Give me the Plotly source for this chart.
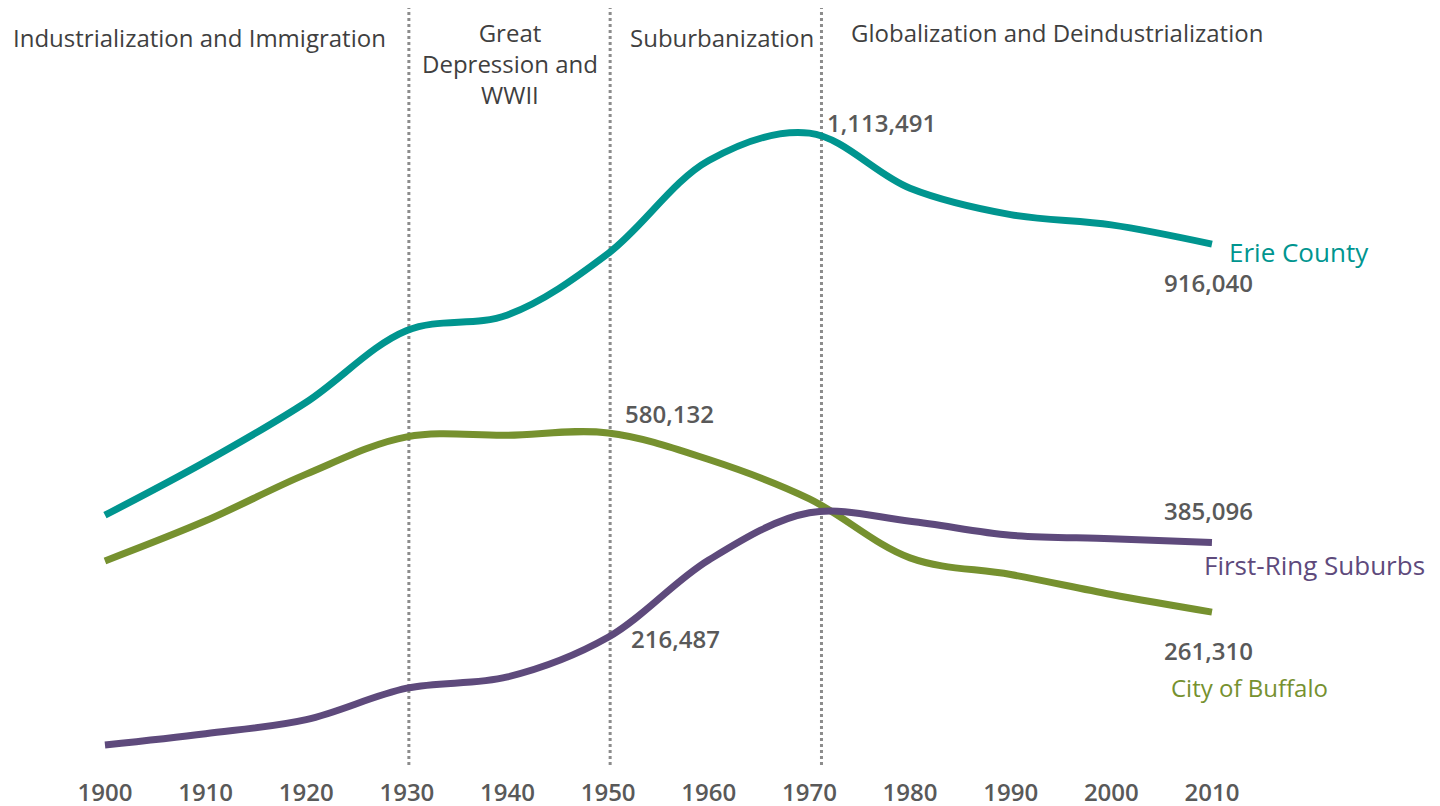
import plotly.graph_objects as go

years = [1900, 1910, 1920, 1930, 1940, 1950, 1960, 1970, 1980, 1990, 2000, 2010]
erie_county = [433686, 528985, 634688, 762408, 790000, 899238, 1064688, 1113491, 1015472, 968532, 950265, 916040]
city_of_buffalo = [352387, 423715, 506775, 573076, 575901, 580132, 532759, 462768, 357870, 328123, 292648, 261310]
first_ring = [25000, 45000, 70000, 126000, 146000, 216487, 354000, 438000, 423000, 398000, 392000, 385096]
tick_labels = [str(y) for y in years]

period_lines = [1930, 1950, 1971]
periods = ["Industrialization and Immigration", "Great<br>Depression and<br>WWII",
           "Suburbanization", "Globalization and Deindustrialization"]

TEAL = "#00958F"
OLIVE = "#76912F"
PURPLE = "#5E4A7C"
GRAY = "#595959"
PH = 771  # plot area height in px

fig = go.Figure()
for vals, col, name in [(erie_county, TEAL, "Erie County"),
                        (city_of_buffalo, OLIVE, "City of Buffalo"),
                        (first_ring, PURPLE, "First-Ring Suburbs")]:
    fig.add_trace(go.Scatter(x=years, y=vals, mode="lines", name=name,
                             line=dict(color=col, width=7, shape="spline", smoothing=1.0),
                             showlegend=False, hoverinfo="skip"))

for yr in period_lines:
    fig.add_shape(type="line", xref="x", yref="paper", xsizemode="pixel", xanchor=yr, x0=2, x1=2,
                  y0=1 - 765/PH, y1=1 - 8/PH,
                  line=dict(color="#8C8C8C", width=3, dash="dot"), layer="below")

num_font = dict(family="Open Sans, Noto Sans, sans-serif", size=24, color=GRAY, weight=600)
lab_font = dict(family="Open Sans, Noto Sans, sans-serif", size=26)

def fmt(v):
    return f"{v:,}"

ann = []
# value labels
ann.append(dict(x=1970, y=erie_county[7], text=fmt(erie_county[7]), xanchor="left", xshift=16, yshift=11, font=num_font))
ann.append(dict(x=2010, y=erie_county[-1], text=fmt(erie_county[-1]), xanchor="center", xshift=-3, yshift=-38, font=num_font))
ann.append(dict(x=1950, y=city_of_buffalo[5], text=fmt(city_of_buffalo[5]), xanchor="left", xshift=15, yshift=19, font=num_font))
ann.append(dict(x=2010, y=first_ring[-1], text=fmt(first_ring[-1]), xanchor="center", xshift=-3, yshift=32, font=num_font))
ann.append(dict(x=1950, y=first_ring[5], text=fmt(first_ring[5]), xanchor="left", xshift=21, yshift=-1, font=num_font))
ann.append(dict(x=2010, y=city_of_buffalo[-1], text=fmt(city_of_buffalo[-1]), xanchor="center", xshift=-3, yshift=-38, font=num_font))
# series labels
ann.append(dict(x=2010, y=erie_county[-1], text="Erie County", xanchor="left", xshift=15, yshift=-8, font=dict(lab_font, color=TEAL)))
ann.append(dict(x=2010, y=first_ring[-1], text="First-Ring Suburbs", xanchor="left", xshift=-10, yshift=-22, font=dict(lab_font, color=PURPLE)))
ann.append(dict(x=2010, y=city_of_buffalo[-1], text="City of Buffalo", xanchor="left", xshift=-43, yshift=-75, font=dict(lab_font, size=24, color=OLIVE)))

period_font = dict(family="Open Sans, Noto Sans, sans-serif", size=24, color="#3F3F3F")
for txt, px, py in zip(periods, [199, 510, 722, 1057], [37, 63, 37, 33]):
    ann.append(dict(xref="paper", yref="paper", x=px/1440, y=1 - py/PH, text=txt,
                    xanchor="center", yanchor="middle", showarrow=False, font=period_font))

for a in ann:
    a.setdefault("xref", "x")
    a.setdefault("yref", "y")
    a.setdefault("showarrow", False)
    a.setdefault("yanchor", "middle")

fig.update_layout(
    width=1440, height=806,
    margin=dict(l=0, r=0, t=0, b=806 - PH, autoexpand=False),
    paper_bgcolor="white", plot_bgcolor="white",
    annotations=ann,
    xaxis=dict(range=[1889.57, 2032.66], tickmode="array", tickvals=years, ticktext=tick_labels,
               showgrid=False, zeroline=False, showline=False, ticks="", automargin=False,
               tickfont=dict(family="Open Sans, Noto Sans, sans-serif", size=24, color=GRAY, weight=600),
               ticklabelstandoff=5),
    yaxis=dict(range=[-21348, 1350294], visible=False, showgrid=False, zeroline=False, automargin=False),
)

fig.write_html("out.html", config={"displayModeBar": False},
               post_script="document.body.style.margin='0';document.body.style.overflow='hidden';")
